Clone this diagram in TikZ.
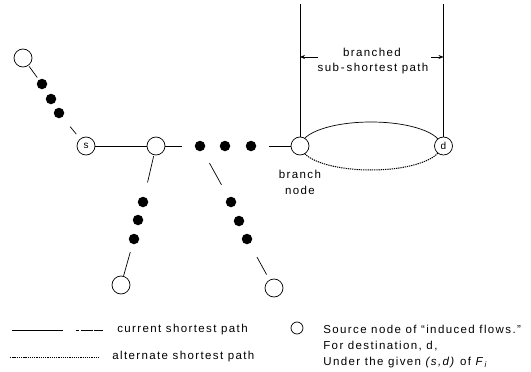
\documentclass[tikz,border=0pt]{standalone}
\usepackage{fontspec}
\setmainfont{Liberation Sans}[LetterSpace=12]
\usetikzlibrary{arrows.meta}
\tikzset{
  x=1pt, y=-1pt,
  every path/.style={line width=0.7pt},
  vertex/.style={circle, draw, fill=white, minimum size=18pt, inner sep=0pt, font=\fontsize{10}{12}\selectfont},
  blob/.style={circle, fill=black, minimum size=10.5pt, inner sep=0pt},
  txt/.style={font=\fontsize{11.5}{16}\selectfont, inner sep=0pt},
  altpath/.style={line width=1pt, dash pattern=on 1.3pt off 0.9pt},
}
\begin{document}
\begin{tikzpicture}
\useasboundingbox (0,0) rectangle (531,372);

% upper-left branch towards s
\node[vertex] (tl) at (23,58) {};
\node[blob] (a1) at (42,84) {};
\node[blob] (a2) at (51,99) {};
\node[blob] (a3) at (59,113) {};
\node[vertex] (s) at (86,146) {s};

% main row
\node[vertex] (n2) at (156,146) {};
\node[blob] (h1) at (200,146) {};
\node[blob] (h2) at (225,146) {};
\node[blob] (h3) at (251,146) {};

% lower-left branch
\node[blob] (l1) at (143,202) {};
\node[blob] (l2) at (138,220) {};
\node[blob] (l3) at (134,239) {};
\node[vertex] (lo) at (121,285) {};

% lower-right branch
\node[blob] (r1) at (231,202) {};
\node[blob] (r2) at (239,221) {};
\node[blob] (r3) at (247,239) {};
\node[vertex] (ro) at (274,288) {};

% branched sub-shortest path between branch node and d
\draw (371,146) ++(-70pt,0) arc[start angle=180, end angle=0, x radius=70pt, y radius=24pt];
\draw[altpath] (371,146) ++(-70pt,0) arc[start angle=180, end angle=360, x radius=70pt, y radius=24pt];
\node[vertex] (b) at (300,146) {};
\node[vertex] (d) at (443.5,146) {d};

% connectors
\draw[shorten <=1pt, shorten >=2.5pt] (tl) -- (a1);
\draw[shorten <=12pt, shorten >=6pt] (a3) -- (s);
\draw (s) -- (n2);
\draw[shorten >=12pt] (n2) -- (h1);
\draw[shorten <=12.5pt] (h3) -- (b);
\draw[shorten <=1pt, shorten >=14.5pt] (n2) -- (l1);
\draw[shorten <=8pt] (l3) -- (lo);
\draw[shorten <=14pt, shorten >=14pt] (h1) -- (r1);
\draw[shorten <=15pt, shorten >=6pt] (r3) -- (ro);

% dimension lines above the branched path
\coordinate (top) at (0,4);
\draw (b.north) -- (b.north |- top);
\draw (d.north) -- (d.north |- top);
\coordinate (arL) at (318,57);
\coordinate (arR) at (431,57);
\draw[-{Stealth[length=5pt,width=4pt]}] (arL) -- (arL -| b.north);
\draw[-{Stealth[length=5pt,width=4pt]}] (arR) -- (arR -| d.north);
\node[txt] (lbl1) at (372,52) {branched};
\node[txt] (lbl2) at (373,69) {sub\,-\,shortest path};
\node[txt, align=center] (bn) at (300,182) {branch\\node};

% legend
\coordinate (k1a) at (12,330);
\coordinate (k1b) at (103,330);
\draw[dash pattern=on 51pt off 13pt on 3pt off 1.5pt on 12pt off 1.5pt on 11pt] (k1a) -- (k1b);
\node[txt, anchor=west] (k1) at (117,330) {current shortest path};
\coordinate (k2a) at (10,357);
\coordinate (k2b) at (100,357);
\draw[altpath] (k2a) -- (k2b);
\node[txt, anchor=west] (k2) at (112,357) {alternate shortest path};
\node[circle, draw, minimum size=12pt, inner sep=0pt] (k3) at (297,328) {};
\node[txt, anchor=west] (k3a) at (323,329) {Source node of “induced flows.”};
\node[txt, anchor=west] (k3b) at (323,346) {For destination, d,};
\node[txt, anchor=west] (k3c) at (323,363) {Under the given \textit{(s,d)} of \textit{F}\textsubscript{\textit{i}}};
\end{tikzpicture}
\end{document}
